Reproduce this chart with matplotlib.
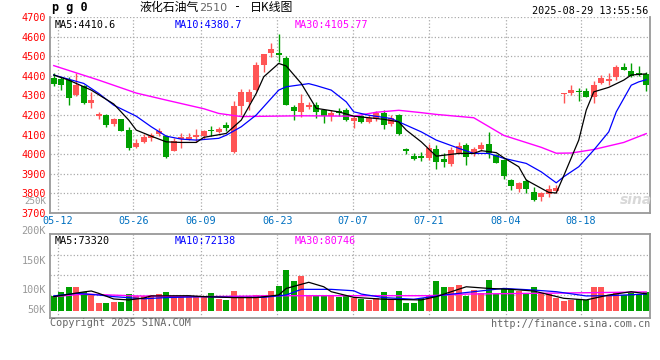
import numpy as np
import matplotlib
matplotlib.use("Agg")
import matplotlib.pyplot as plt
import matplotlib.transforms as mtransforms

W, H = 660, 360
MONO = "DejaVu Sans Mono"
CJK = ["Noto Sans CJK SC", "DejaVu Sans"]
RED, GREEN = "#FF5555", "#00A000"
GRID, FRAME = "#AAAAAA", "#999999"

# ---- daily candles (LPG 2510) ----
OPEN = [4390, 4386, 4381, 4301, 4347, 4259, 4197, 4199, 4153, 4179,
        4123, 4036, 4063, 4085, 4102, 4092, 4018, 4077, 4079, 4087,
        4092, 4126, 4114, 4150, 4012, 4245, 4267, 4330, 4454, 4517,
        4516, 4492, 4242, 4216, 4242, 4250, 4228, 4194, 4220, 4225,
        4170, 4194, 4165, 4182, 4208, 4152, 4199, 4026, 3992, 3992,
        3980, 4026, 3978, 3948, 4007, 4046, 3999, 4024, 4051, 3995,
        3970, 3868, 3822, 3863, 3808, 3783, 3797, 3812, 4308, 4313,
        4322, 4323, 4290, 4361, 4374, 4395, 4444, 4424, 4412, 4407]
HIGH = [4415, 4395, 4395, 4415, 4352, 4318, 4216, 4203, 4187, 4180,
        4140, 4077, 4101, 4109, 4135, 4097, 4084, 4109, 4109, 4130,
        4126, 4143, 4140, 4164, 4271, 4332, 4332, 4471, 4512, 4568,
        4612, 4500, 4249, 4306, 4267, 4267, 4228, 4225, 4238, 4238,
        4194, 4199, 4199, 4221, 4225, 4199, 4204, 4034, 4004, 4009,
        4051, 4046, 4004, 4035, 4060, 4055, 4038, 4060, 4114, 3999,
        3973, 3873, 3859, 3871, 3834, 3808, 3842, 3842, 4310, 4352,
        4340, 4340, 4375, 4403, 4412, 4454, 4463, 4463, 4449, 4420]
LOW = [4347, 4330, 4250, 4298, 4256, 4238, 4182, 4140, 4143, 4118,
       4021, 4031, 4055, 4067, 4092, 3982, 4016, 4033, 4072, 4060,
       4080, 4092, 4110, 4120, 4004, 4199, 4225, 4323, 4420, 4497,
       4468, 4250, 4174, 4191, 4233, 4187, 4160, 4170, 4196, 4170,
       4135, 4160, 4157, 4170, 4128, 4145, 4097, 4000, 3970, 3966,
       3970, 3927, 3936, 3939, 4000, 3944, 3990, 4017, 3982, 3953,
       3876, 3817, 3808, 3800, 3762, 3762, 3780, 3800, 4262, 4301,
       4272, 4290, 4262, 4356, 4352, 4381, 4429, 4395, 4398, 4323]
CLOSE = [4359, 4354, 4288, 4352, 4262, 4274, 4204, 4148, 4181, 4120,
         4033, 4056, 4089, 4096, 4118, 3985, 4065, 4087, 4087, 4097,
         4116, 4118, 4131, 4135, 4245, 4317, 4317, 4454, 4510, 4536,
         4505, 4250, 4220, 4262, 4250, 4216, 4196, 4211, 4211, 4174,
         4187, 4165, 4187, 4208, 4148, 4187, 4102, 4014, 3977, 3982,
         4033, 3961, 3961, 4021, 4043, 3987, 4029, 4046, 4004, 3956,
         3888, 3839, 3854, 3820, 3766, 3800, 3820, 3830, 4310, 4327,
         4315, 4293, 4352, 4390, 4383, 4446, 4432, 4398, 4405, 4352]
VOLUME = [62, 81, 102, 102, 81, 71, 34, 34, 38, 38,
          71, 62, 62, 67, 71, 81, 62, 62, 62, 62,
          62, 77, 50, 45, 84, 62, 62, 67, 67, 84,
          105, 173, 126, 147, 62, 62, 62, 67, 60, 67,
          57, 52, 48, 55, 81, 52, 84, 34, 34, 55,
          67, 126, 102, 102, 109, 62, 88, 77, 130, 71,
          95, 95, 85, 74, 102, 71, 71, 57, 42, 48,
          52, 48, 102, 102, 67, 81, 67, 81, 71, 81]  # thousand lots

# moving averages (candle index, value)
MA5_IDX = [0, 2, 5, 8, 10, 11, 13, 15, 17, 19, 20, 23, 25, 27, 28, 30, 31, 33, 35, 38,
           40, 44, 46, 47, 49, 51, 54, 56, 57, 59, 60, 62, 63, 65, 66, 67, 68, 70, 71, 72,
           74, 76, 77, 79]
MA5_VAL = [4404, 4378, 4327, 4256, 4174, 4123, 4092, 4063, 4060, 4060, 4086, 4106, 4174, 4310,
           4395, 4463, 4450, 4361, 4234, 4216, 4194, 4178, 4165, 4123, 4063, 3990, 4004, 4004,
           4018, 4008, 3982, 3936, 3868, 3826, 3805, 3802, 3890, 4072, 4225, 4318, 4341, 4378,
           4404, 4410]
MA10_IDX = [0, 4, 6, 8, 11, 13, 15, 17, 19, 22, 23, 25, 27, 29, 30, 31, 34, 35, 37, 39,
            40, 42, 45, 47, 49, 51, 54, 56, 58, 60, 63, 65, 67, 68, 70, 72, 74, 75, 77, 78, 79]
MA10_VAL = [4404, 4361, 4310, 4250, 4194, 4140, 4092, 4077, 4072, 4081, 4097, 4140, 4200,
            4285, 4327, 4344, 4360, 4350, 4327, 4267, 4216, 4199, 4182, 4148, 4114, 4072,
            4030, 4004, 4004, 3979, 3953, 3910, 3854, 3885, 3936, 4021, 4114, 4216, 4352,
            4369, 4380]
MA30_IDX = [0, 6, 11, 15, 20, 22, 25, 29, 33, 40, 43, 46, 49, 51, 56, 60, 65, 67, 69, 72, 76, 79]
MA30_VAL = [4452, 4378, 4312, 4276, 4232, 4208, 4192, 4194, 4196, 4194, 4214, 4224, 4212,
            4203, 4186, 4096, 4035, 4005, 4006, 4024, 4060, 4105]

VMA5_IDX = [0, 4, 5, 6, 8, 10, 12, 13, 18, 20, 24, 27, 30, 31, 34, 36, 37, 40, 44, 49,
            51, 55, 58, 61, 64, 68, 71, 72, 74, 77, 79]
VMA5_VAL = [61, 81, 85, 75, 51, 47, 55, 64, 65, 61, 57, 57, 68, 96, 122, 103, 82, 58, 50, 47,
            61, 103, 96, 92, 85, 54, 47, 54, 68, 82, 73]
VMA10_IDX = [0, 3, 6, 8, 12, 15, 20, 24, 28, 31, 33, 37, 40, 41, 44, 48, 52, 56, 60, 64,
             67, 71, 74, 79]
VMA10_VAL = [64, 75, 68, 61, 52, 57, 61, 58, 58, 68, 92, 92, 86, 72, 57, 50, 68, 82, 96, 89,
             82, 64, 65, 72]
VMA30_IDX = [0, 4, 11, 20, 30, 50, 55, 64, 72, 79]
VMA30_VAL = [61, 72, 64, 61, 65, 65, 72, 75, 78, 81]

DATE_LABELS = ["05-12", "05-26", "06-09", "06-23", "07-07", "07-21", "08-04", "08-18"]
DATE_GRID = [0.5, 10.6, 19.6, 29.8, 39.9, 50.0, 60.3, 70.3]


def fx(px):
    return px / W


def fy(py):
    return 1 - py / H


fig = plt.figure(figsize=(W / 100, H / 100), dpi=100)
ax = fig.add_axes([fx(50), fy(213), 600 / W, 196 / H])
av = fig.add_axes([fx(50), fy(318), 600 / W, 84 / H])

n = len(OPEN)
x = np.arange(n)
o, h, l, c = (np.array(a, float) for a in (OPEN, HIGH, LOW, CLOSE))
col = np.where(c >= o, RED, GREEN)

# ---- price panel ----
ax.vlines(x, l, h, colors=col, lw=1.0, zorder=3)
body = np.maximum(np.abs(c - o), 5)
ax.bar(x, body, bottom=(o + c) / 2 - body / 2, width=0.8, color=col, lw=0, zorder=4)
ax.plot(MA30_IDX, MA30_VAL, color="#FF00FF", lw=1.0, zorder=5)
ax.plot(MA10_IDX, MA10_VAL, color="#0000FF", lw=0.9, zorder=5)
ax.plot(MA5_IDX, MA5_VAL, color="black", lw=0.9, zorder=6)

ax.set_xlim(-0.5, n - 0.5)
ax.set_ylim(3700, 4700)
ax.set_yticks(np.arange(3700, 4701, 100))
ax.set_yticklabels([str(v) for v in range(3700, 4701, 100)], color="red",
                   fontsize=7.3, family=MONO)
# sina draws the price labels a couple of pixels above their grid lines
lift = mtransforms.ScaledTranslation(0, 2.5 / 100, fig.dpi_scale_trans)
for t in ax.get_yticklabels():
    t.set_transform(t.get_transform() + lift)
ax.set_xticks(DATE_GRID)
ax.set_xticklabels(DATE_LABELS, color="#0070C0", fontsize=7.3, family=MONO)
ax.tick_params(length=0, pad=2.5)
ax.tick_params(axis="y", pad=3)
ax.grid(True, ls=":", color=GRID, lw=0.9)
ax.set_axisbelow(True)
for s in ("left", "bottom", "right"):
    ax.spines[s].set_color(FRAME)
    ax.spines[s].set_linewidth(1.3)
ax.spines["top"].set_visible(False)

ax.text(0.008, 0.985, "MA5:4410.6", transform=ax.transAxes, color="black",
        fontsize=7.3, family=MONO, va="top")
ax.text(0.208, 0.985, "MA10:4380.7", transform=ax.transAxes, color="#0000FF",
        fontsize=7.3, family=MONO, va="top")
ax.text(0.408, 0.985, "MA30:4105.77", transform=ax.transAxes, color="#FF00FF",
        fontsize=7.3, family=MONO, va="top")

# ---- volume panel ----
av.bar(x, VOLUME, width=0.8, color=col, lw=0, zorder=3)
av.plot(VMA30_IDX, VMA30_VAL, color="#FF00FF", lw=1.0, zorder=4)
av.plot(VMA10_IDX, VMA10_VAL, color="#0000FF", lw=0.9, zorder=5)
av.plot(VMA5_IDX, VMA5_VAL, color="black", lw=0.9, zorder=6)
av.set_xlim(-0.5, n - 0.5)
av.set_ylim(-29.75, 327.25)
av.set_yticks([68, 153, 238])
av.set_yticklabels([])
av.set_xticks(DATE_GRID)
av.set_xticklabels([])
av.tick_params(length=0)
av.grid(True, ls=":", color=GRID, lw=0.9)
av.set_axisbelow(True)
for s in av.spines.values():
    s.set_color(FRAME)
    s.set_linewidth(1.3)

av.text(0.008, 0.975, "MA5:73320", transform=av.transAxes, color="black",
        fontsize=7.3, family=MONO, va="top")
av.text(0.208, 0.975, "MA10:72138", transform=av.transAxes, color="#0000FF",
        fontsize=7.3, family=MONO, va="top")
av.text(0.408, 0.975, "MA30:80746", transform=av.transAxes, color="#FF00FF",
        fontsize=7.3, family=MONO, va="top")

for lab, py, fs in [("250K", 202, 6.6), ("200K", 231, 7.3), ("150K", 261, 7.3),
                    ("100K", 290, 7.3), ("50K", 310, 7.3)]:
    fig.text(fx(46), fy(py), lab, color="#999999", fontsize=fs, family=MONO,
             ha="right", va="center")

# ---- header / footer ----
fig.text(fx(52), fy(8), "p g 0", fontsize=8.5, family=MONO, weight="bold", va="center")
fig.text(fx(140), fy(7), "液化石油气", fontsize=8.6, family=CJK, va="center")
fig.text(fx(199), fy(8), "2510", fontsize=8, family="DejaVu Sans", color="#666666",
         va="center")
fig.text(fx(234), fy(7), "-", fontsize=8.5, family=MONO, va="center")
fig.text(fx(250), fy(7), "日K线图", fontsize=8.6, family=CJK, va="center")
fig.text(fx(648), fy(11), "2025-08-29 13:55:56", fontsize=7.3, family=MONO,
         ha="right", va="center")
fig.text(fx(50), fy(323), "Copyright 2025 SINA.COM", fontsize=7.3, family=MONO,
         color="#666666", va="center")
fig.text(fx(650), fy(324), "http://finance.sina.com.cn", fontsize=7.3, family=MONO,
         color="#666666", ha="right", va="center")
fig.text(fx(620), fy(200), "sina", fontsize=10, style="italic", weight="bold",
         color="#D8D8D8", va="center", family="DejaVu Sans")

fig.savefig("out.png", dpi=100)
